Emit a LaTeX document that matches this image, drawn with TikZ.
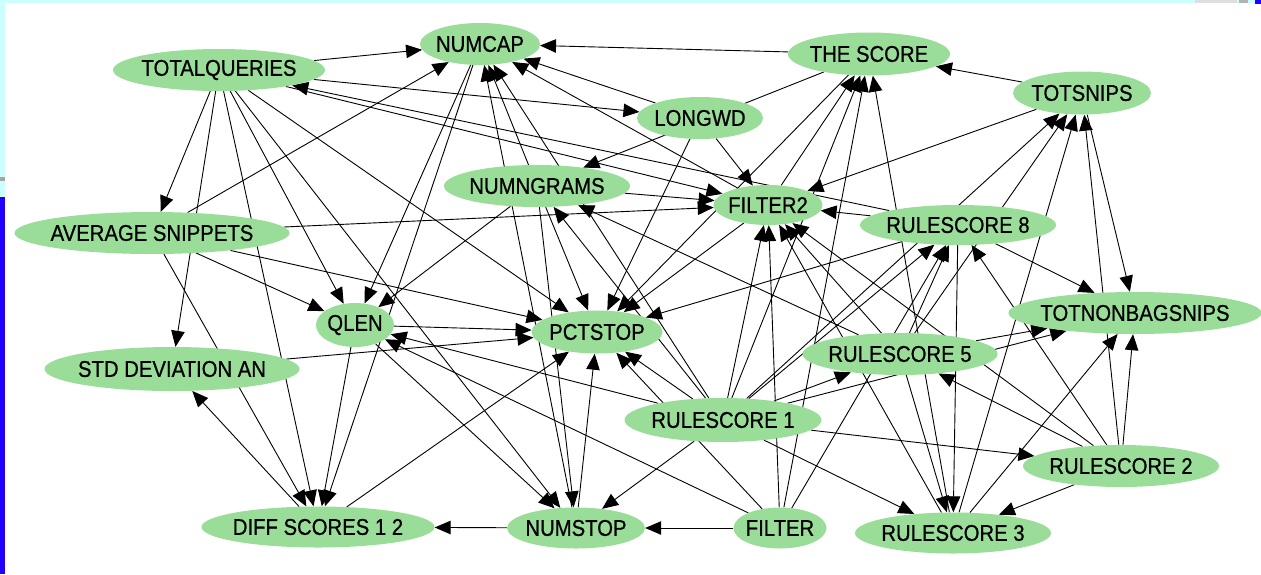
\documentclass[tikz,border=0pt]{standalone}
\usepackage{fontspec}
\setmainfont{Liberation Sans}
\newfontfamily\labelfont{Liberation Sans}[FakeBold=0.7]
\usetikzlibrary{shapes.geometric,arrows.meta}
\definecolor{nodegreen}{RGB}{153,221,153}
\definecolor{framecyan}{RGB}{204,255,255}
\definecolor{frameblue}{RGB}{34,0,255}
\pgfdeclarelayer{paper}
\pgfdeclarelayer{wires}
\pgfsetlayers{paper,wires,main}
% variable node: name, centre, label, width, height
\newcommand\varnode[5]{%
  \node[var, minimum width=#4, minimum height=#5] (#1) at (#2)
    {\makebox[0pt]{\scalebox{1}[1.12]{#3}}};}
\begin{document}
\begin{tikzpicture}[x=1pt,y=-1pt,
  var/.style={ellipse, fill=nodegreen, inner sep=0pt,
    font=\labelfont\fontsize{20.3}{20}\selectfont},
  dep/.style={-{Triangle[length=16pt,width=13.5pt]}, line width=0.9pt, black},
]
\useasboundingbox (0,0) rectangle (1261,574);
\begin{pgfonlayer}{paper}
  \fill[white] (0,0) rectangle (1261,574);
  \fill[framecyan] (0,0) rectangle (1261,3);
  \fill[framecyan] (0,0) rectangle (5,197);
  \fill[gray!70] (0,177) rectangle (5,181);
  \fill[frameblue] (0,197) rectangle (5,574);
  \fill[gray!25] (1195,0) rectangle (1237,3);
  \fill[gray!60] (1239,0) rectangle (1248,3);
  \fill[frameblue] (1255,0) rectangle (1261,4);
\end{pgfonlayer}

\varnode{numcap}{480,44}{NUMCAP}{120}{42}
\varnode{thescore}{869,54}{THE SCORE}{162}{43}
\varnode{totalq}{219,70}{TOTALQUERIES}{212}{42}
\varnode{totsnips}{1082,93}{TOTSNIPS}{138}{43}
\varnode{longwd}{700,118}{LONGWD}{126}{42}
\varnode{numngrams}{537,186}{NUMNGRAMS}{186}{42}
\varnode{filtertwo}{768,205}{FILTER2}{109}{40}
\varnode{rseight}{958,225}{RULESCORE 8}{196}{40}
\varnode{avg}{152,233}{AVERAGE SNIPPETS}{275}{42}
\varnode{qlen}{355,325}{QLEN}{78}{44}
\varnode{pctstop}{597,332}{PCTSTOP}{131}{43}
\varnode{totnon}{1135,313}{TOTNONBAGSNIPS}{253}{42}
\varnode{stddev}{172,369}{STD DEVIATION AN}{255}{44}
\varnode{rsfive}{900,354}{RULESCORE 5}{195}{42}
\varnode{rsone}{723,420}{RULESCORE 1}{197}{44}
\varnode{rstwo}{1121,466}{RULESCORE 2}{196}{42}
\varnode{diff}{318,527}{DIFF SCORES 1 2}{233}{41}
\varnode{numstop}{576,528}{NUMSTOP}{138}{41}
\varnode{filter}{780,528}{FILTER}{93}{41}
\varnode{rsthree}{953,533}{RULESCORE 3}{196}{41}

\begin{pgfonlayer}{wires}
\foreach \a/\b in {
  totalq/numcap, avg/numcap, thescore/numcap, longwd/numcap,
  filtertwo/numcap, numstop/numcap, numngrams/numcap, rsone/numcap,
  numcap/qlen, numcap/diff,
  qlen/diff, avg/diff, totalq/diff, numstop/diff,
  diff/stddev, diff/pctstop,
  filter/numstop, qlen/numstop, totalq/numstop, numngrams/numstop,
  rsone/numstop, numstop/pctstop,
  avg/pctstop, qlen/pctstop, stddev/pctstop, totalq/pctstop,
  numngrams/pctstop, thescore/pctstop, longwd/pctstop, filtertwo/pctstop,
  rseight/pctstop, rsone/pctstop, filter/pctstop,
  totalq/qlen, numngrams/qlen, avg/qlen, rsone/qlen, filter/qlen,
  totalq/longwd, longwd/filtertwo,
  totalq/filtertwo, numngrams/filtertwo, avg/filtertwo,
  rseight/filtertwo, totsnips/filtertwo, rsone/filtertwo, filter/filtertwo,
  rsfive/filtertwo, rsthree/filtertwo, rstwo/filtertwo,
  rseight/totalq,
  filter/thescore, rsthree/thescore, filtertwo/thescore, rsone/thescore,
  totsnips/thescore, thescore/numngrams,
  rsone/totsnips, rsfive/totsnips, rsthree/totsnips, rstwo/totsnips,
  totsnips/totnon, rseight/totnon, rsfive/totnon, rsone/totnon,
  rsthree/totnon, rstwo/totnon,
  rsone/rseight, filter/rseight, rsfive/rseight, rstwo/rseight,
  rseight/rsthree, rsfive/rsthree, rsone/rsthree, rstwo/rsthree,
  rsfive/numngrams, rsone/numngrams,
  totalq/avg, totalq/stddev,
  rsone/rsfive, rstwo/rsfive, rsone/rstwo}
  \draw[dep] (\a) -- (\b);
\end{pgfonlayer}
\end{tikzpicture}
\end{document}
